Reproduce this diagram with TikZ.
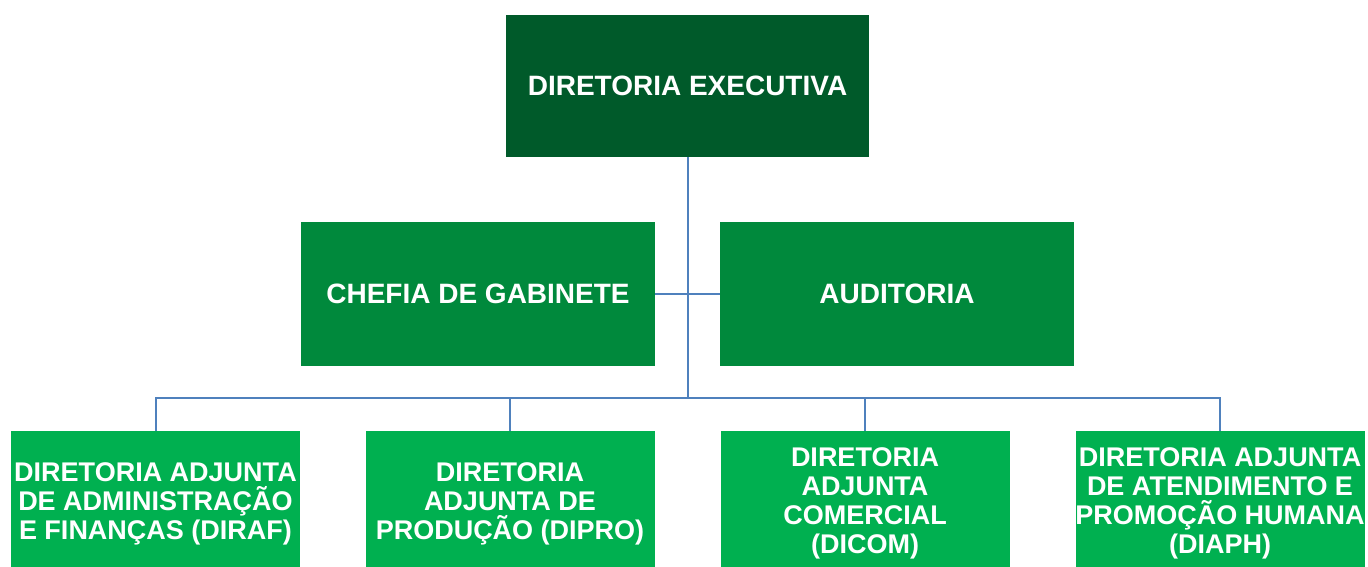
\documentclass[tikz,border=0pt]{standalone}
\usepackage{fontspec}
\setmainfont{Liberation Sans}
\definecolor{gtop}{RGB}{0,90,42}
\definecolor{gmid}{RGB}{0,137,60}
\definecolor{gbot}{RGB}{0,176,80}
\definecolor{conncol}{RGB}{79,129,189}
\begin{document}
\begin{tikzpicture}[x=1pt,y=-1pt,
  box/.style={draw=none,inner sep=0pt,text=white,align=center,
    font=\bfseries\fontsize{28}{30}\selectfont},
  topbox/.style={box,fill=gtop,minimum width=363pt,minimum height=142pt},
  midbox/.style={box,fill=gmid,minimum width=354pt,minimum height=144pt},
  botbox/.style={box,fill=gbot,minimum width=289pt,minimum height=140pt},
  bottext/.style={inner sep=0pt,text=white,align=center,
    font=\bfseries\fontsize{27}{29.2}\selectfont},
  conn/.style={draw=conncol,line width=2pt}]
\useasboundingbox (0,0) rectangle (1368,566);
\node[topbox] (top) at (687.5,86) {DIRETORIA EXECUTIVA};
\node[midbox] (chefia) at (478,294) {CHEFIA DE GABINETE};
\node[midbox] (aud) at (897,294) {AUDITORIA};
\node[botbox] (b1) at (155.5,501) {};
\node[botbox] (b2) at (510,501) {};
\node[botbox] (b3) at (865,501) {};
\node[botbox] (b4) at (1220,501) {};
\node[bottext] (t1) at (155.5,504) {DIRETORIA ADJUNTA\\DE ADMINISTRAÇÃO\\E FINANÇAS (DIRAF)};
\node[bottext] (t2) at (510,504) {DIRETORIA\\ADJUNTA DE\\PRODUÇÃO (DIPRO)};
\node[bottext] (t3) at (865,503.5) {DIRETORIA\\ADJUNTA\\COMERCIAL\\(DICOM)};
\node[bottext] (t4) at (1220,503.5) {DIRETORIA ADJUNTA\\DE ATENDIMENTO E\\PROMOÇÃO HUMANA\\(DIAPH)};
\coordinate (bus) at (687.5,398);
\draw[conn] (top.south) -- (bus);
\draw[conn] (chefia.east) -- (aud.west);
\draw[conn] (b1.north) |- (bus);
\draw[conn] (b2.north) |- (bus);
\draw[conn] (b3.north) |- (bus);
\draw[conn] (b4.north) |- (bus);
\end{tikzpicture}
\end{document}
